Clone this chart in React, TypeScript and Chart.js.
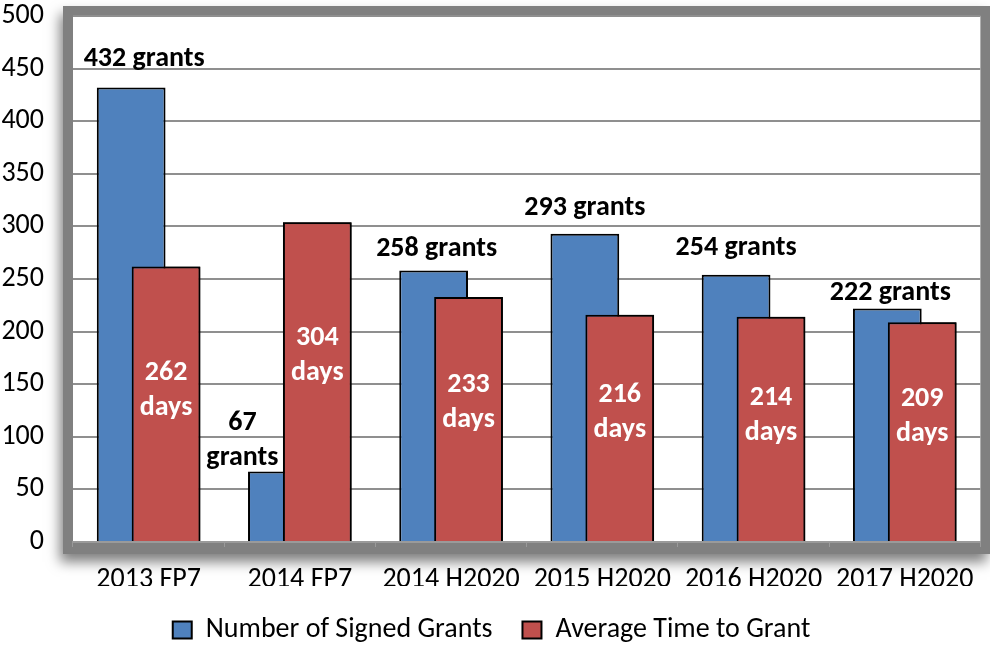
import React, { useEffect, useRef } from "react";
import { Chart, registerables } from "chart.js";

Chart.register(...registerables);

const categories = ["2013 FP7", "2014 FP7", "2014 H2020", "2015 H2020", "2016 H2020", "2017 H2020"];
const signedGrants = [432, 67, 258, 293, 254, 222];
const avgDays = [262, 304, 233, 216, 214, 209];
const yTicks = [0, 50, 100, 150, 200, 250, 300, 350, 400, 450, 500];

// label placement tweaks (relative to bar)
const grantLabelDx = [13, -40, 3, 0, 0, 3];
const grantLabelDy = [-22, -7, -15, -19, -20, -8];
const grantLabelWrap = [false, true, false, false, false, false];
const dayLabelDy = [-13, -26, -16, -15, -13, -15];

const FONT = "Carlito, Lato, sans-serif";
const FS = 28;

const framePlugin = {
  id: "frame",
  beforeDraw(chart: any) {
    const { ctx, chartArea: a } = chart;
    ctx.save();
    ctx.shadowColor = "rgba(0,0,0,0.5)";
    ctx.shadowBlur = 12;
    ctx.shadowOffsetX = -3;
    ctx.shadowOffsetY = 8;
    ctx.fillStyle = "#808080";
    ctx.fillRect(a.left - 10, a.top - 10, a.right - a.left + 20, a.bottom - a.top + 22);
    ctx.restore();
    ctx.save();
    ctx.fillStyle = "#ffffff";
    ctx.fillRect(a.left, a.top, a.right - a.left, a.bottom - a.top);
    ctx.restore();
  },
};

const overlayPlugin = {
  id: "overlay",
  afterDatasetsDraw(chart: any) {
    const { ctx } = chart;
    // draw the red series on top of the blue one
    const redMeta = chart.getDatasetMeta(1);
    ctx.save();
    redMeta.controller.draw();
    ctx.restore();

    const blueMeta = chart.getDatasetMeta(0);
    ctx.save();
    ctx.font = `bold ${FS}px ${FONT}`;
    ctx.textAlign = "center";
    ctx.textBaseline = "alphabetic";
    ctx.fillStyle = "#000";
    blueMeta.data.forEach((bar: any, i: number) => {
      const x = bar.x + grantLabelDx[i];
      const y = bar.y + grantLabelDy[i];
      if (grantLabelWrap[i]) {
        ctx.fillText(String(signedGrants[i]), x, y - 35);
        ctx.fillText("grants", x, y);
      } else {
        ctx.fillText(`${signedGrants[i]} grants`, x, y);
      }
    });
    ctx.fillStyle = "#ffffff";
    ctx.textBaseline = "middle";
    redMeta.data.forEach((bar: any, i: number) => {
      const mid = (bar.y + bar.base) / 2 + dayLabelDy[i];
      ctx.fillText(String(avgDays[i]), bar.x, mid - 17.5);
      ctx.fillText("days", bar.x, mid + 17.5);
    });
    ctx.restore();
  },
};

export default function App() {
  const ref = useRef<HTMLCanvasElement | null>(null);
  useEffect(() => {
    if (!ref.current) return;
    const chart = new Chart(ref.current, {
      type: "bar",
      data: {
        labels: categories,
        datasets: [
          {
            label: "Number of Signed Grants",
            data: signedGrants,
            backgroundColor: "#4F81BD",
            borderColor: "#000000",
            borderWidth: 2,
          },
          {
            label: "Average Time to Grant",
            data: avgDays,
            backgroundColor: "#C0504D",
            borderColor: "#000000",
            borderWidth: 2,
          },
        ],
      },
      options: {
        animation: false,
        responsive: false,
        maintainAspectRatio: false,
        datasets: { bar: { categoryPercentage: 0.4615, barPercentage: 1.97 } },
        layout: { padding: { top: 16, right: 7, left: 0, bottom: -8 } },
        plugins: {
          tooltip: { enabled: false },
          legend: {
            position: "bottom",
            labels: {
              font: { family: FONT, size: FS },
              color: "#000",
              boxWidth: 19,
              boxHeight: 17,
              padding: 30,
            },
          },
        },
        scales: {
          x: {
            grid: {
              offset: true,
              drawOnChartArea: false,
              drawTicks: true,
              tickLength: 5,
              color: "#9a9a9a",
            },
            border: { display: true, color: "#9a9a9a", width: 2 },
            ticks: { font: { family: FONT, size: FS }, color: "#000", padding: 16, maxRotation: 0 },
            afterFit: (s: any) => {
              s.height = 44;
            },
          },
          y: {
            min: 0,
            max: 500,
            afterBuildTicks: (s: any) => {
              s.ticks = yTicks.map((v) => ({ value: v }));
            },
            grid: { drawTicks: true, tickLength: 29, tickColor: "rgba(0,0,0,0)", color: "#8f8f8f", lineWidth: 2 },
            border: { display: false },
            ticks: { font: { family: FONT, size: FS, lineHeight: 1 }, color: "#000", padding: 0 },
            afterFit: (s: any) => {
              s.width = 73;
            },
          },
        },
      },
      plugins: [framePlugin, overlayPlugin],
    });
    return () => chart.destroy();
  }, []);
  return (
    <div style={{ position: "fixed", left: 0, top: 0, width: 990, height: 646, background: "#fff" }}>
      <canvas ref={ref} width={990} height={646} style={{ width: 990, height: 646 }} />
    </div>
  );
}
